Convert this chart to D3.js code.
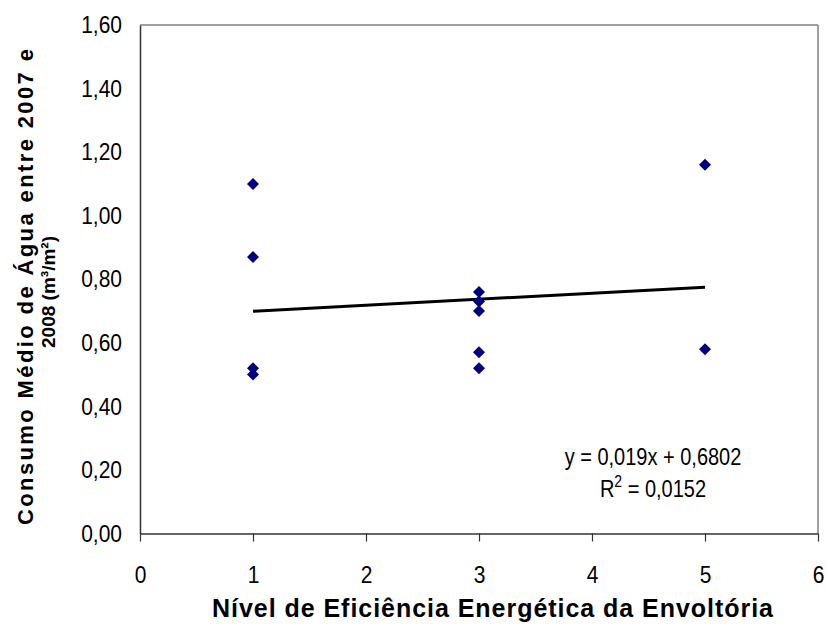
<!DOCTYPE html>
<html><head><meta charset="utf-8">
<script src="https://cdn.jsdelivr.net/npm/d3@7"></script>
<style>body{margin:0;background:#fff}svg{display:block}text{font-family:"Liberation Sans",Arial,sans-serif}</style>
</head><body>
<svg id="c" width="827" height="634"></svg>
<script>
const xValues = [1, 1, 1, 1, 3, 3, 3, 3, 3, 5, 5];
const yValues = [1.10, 0.87, 0.52, 0.50, 0.76, 0.73, 0.70, 0.57, 0.52, 1.16, 0.58];
const trendSlope = 0.019;
const trendIntercept = 0.6802;
const xTicks = [0, 1, 2, 3, 4, 5, 6];
const yTicks = [0, 0.2, 0.4, 0.6, 0.8, 1.0, 1.2, 1.4, 1.6];
const xTitle = "Nível de Eficiência Energética da Envoltória";
const yTitleLines = ["Consumo Médio de Água entre 2007 e", "2008 (m³/m²)"];
const eqLabel = "y = 0,019x + 0,6802";

const svg = d3.select("#c");
const L = 140, R = 818, T = 25, B = 533.5;
const x = d3.scaleLinear().domain([0, 6]).range([L, R]);
const y = d3.scaleLinear().domain([0, 1.6]).range([B, T]);
const fmt = d => d3.format(".2f")(d).replace(".", ",");
const FF = "Liberation Sans, Arial, sans-serif";
const VS = 1.15;

// frame
svg.append("line").attr("x1", L).attr("x2", R).attr("y1", T).attr("y2", T).attr("stroke", "#808080").attr("stroke-width", 1.5);
svg.append("line").attr("x1", R).attr("x2", R).attr("y1", T).attr("y2", B).attr("stroke", "#808080").attr("stroke-width", 1.5);

// y axis
const ya = svg.append("g").attr("transform", `translate(${L},0)`)
  .call(d3.axisLeft(y).tickValues(yTicks).tickFormat(fmt).tickSize(0).tickPadding(18));
ya.select(".domain").attr("stroke", "#333").attr("stroke-width", 1.5);
ya.selectAll("text").attr("font-size", 21).attr("fill", "#000").attr("font-family", FF)
  .attr("transform", `scale(1,${VS})`);

// x axis
const xa = svg.append("g").attr("transform", `translate(0,${B})`)
  .call(d3.axisBottom(x).tickValues(xTicks).tickFormat(d => d).tickSize(8).tickSizeOuter(0).tickPadding(20));
xa.select(".domain").attr("stroke", "#333").attr("stroke-width", 1.5);
xa.selectAll(".tick line").attr("stroke", "#333").attr("stroke-width", 1.2);
xa.selectAll("text").attr("font-size", 21).attr("fill", "#000").attr("font-family", FF)
  .attr("transform", `scale(1,${VS})`);

// trend line
svg.append("line")
  .attr("x1", x(1)).attr("y1", y(trendSlope * 1 + trendIntercept))
  .attr("x2", x(5)).attr("y2", y(trendSlope * 5 + trendIntercept))
  .attr("stroke", "#000").attr("stroke-width", 3);

// points
const sym = d3.symbol().type(d3.symbolSquare).size(72);
svg.append("g").selectAll("path").data(xValues.map((v, i) => [v, yValues[i]]))
  .join("path").attr("d", sym)
  .attr("transform", d => `translate(${x(d[0])},${y(d[1])}) rotate(45)`)
  .attr("fill", "#000080");

// equation
svg.append("text").attr("transform", "translate(653,465) scale(1,1.2)").attr("text-anchor", "middle").attr("font-size", 20).text(eqLabel);
const r2 = svg.append("text").attr("transform", "translate(653,497) scale(1,1.2)").attr("text-anchor", "middle").attr("font-size", 20);
r2.append("tspan").text("R");
r2.append("tspan").attr("font-size", 14).attr("dy", -8).text("2");
r2.append("tspan").attr("dy", 8).text(" = 0,0152");

// titles
svg.append("text").attr("x", 492.5).attr("y", 617).attr("text-anchor", "middle")
  .attr("font-size", 25).attr("font-weight", "bold")
  .attr("textLength", 561).attr("lengthAdjust", "spacing").text(xTitle);
svg.append("text").attr("transform", "translate(33,287) rotate(-90)")
  .attr("text-anchor", "middle").attr("font-size", 22).attr("font-weight", "bold")
  .attr("textLength", 476).attr("lengthAdjust", "spacing").text(yTitleLines[0]);
svg.append("text").attr("transform", "translate(55,292) rotate(-90)")
  .attr("text-anchor", "middle").attr("font-size", 19).attr("font-weight", "bold")
  .text(yTitleLines[1]);
</script>
</body></html>
